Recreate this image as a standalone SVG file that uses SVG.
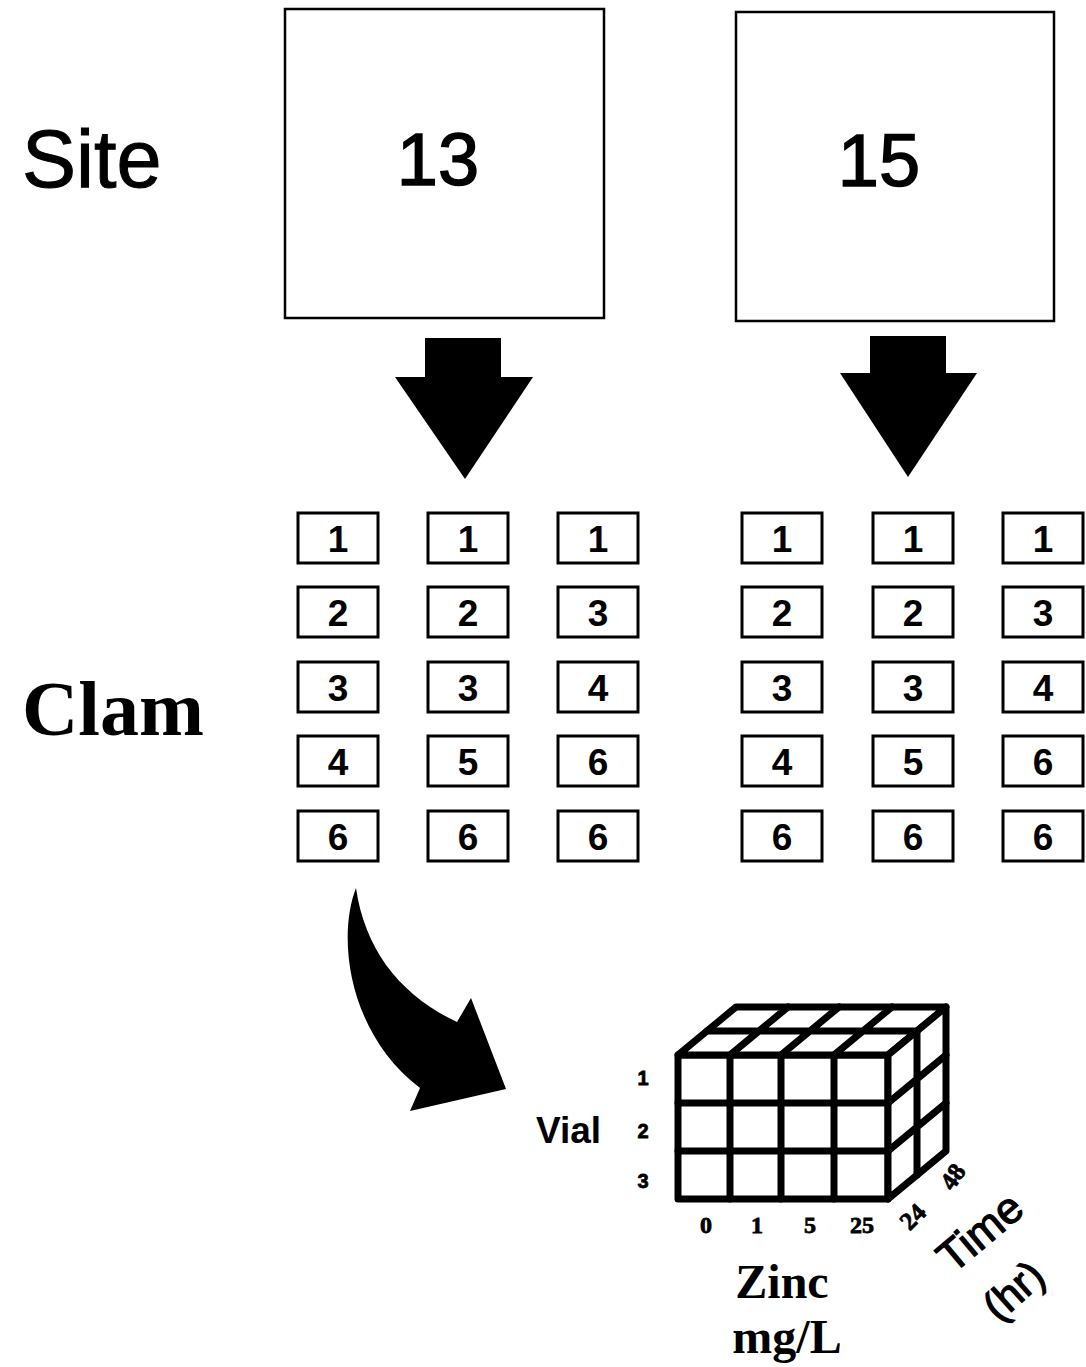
<svg xmlns="http://www.w3.org/2000/svg" width="1086" height="1367" viewBox="0 0 1086 1367">
<style>
.sans{font-family:"Liberation Sans",Arial,sans-serif;fill:#000}
.serif{font-family:"Liberation Serif","Times New Roman",serif;fill:#000}
.site{fill:#fff;stroke:#000;stroke-width:2.5}
.clam rect{fill:#fff;stroke:#000;stroke-width:3}
.clam text{font-family:"Liberation Sans",Arial,sans-serif;font-size:37px;font-weight:bold;text-anchor:middle}
.cube{fill:#fff;stroke:#000;stroke-width:7;stroke-linejoin:round;stroke-linecap:round}
.tick{stroke:#000;stroke-width:0.8}
</style>
<rect width="1086" height="1367" fill="#fff"/>

<text class="sans" x="22" y="187" font-size="81" stroke="#000" stroke-width="1">Site</text>
<text class="serif" x="22" y="735" font-size="78" font-weight="bold">Clam</text>

<g id="site13">
<rect class="site" x="285" y="9" width="319" height="309"/>
<text class="sans" x="438" y="185" font-size="74" text-anchor="middle" stroke="#000" stroke-width="1.5">13</text>
</g>
<g id="site15">
<rect class="site" x="736" y="12" width="318" height="309"/>
<text class="sans" x="879" y="186" font-size="74" text-anchor="middle" stroke="#000" stroke-width="1.5">15</text>
</g>

<g id="connectors" fill="#000">
<polygon points="425,338 501,338 501,377 533,377 465,479 395,377 425,377"/>
<polygon points="870,336 946,336 946,373 977,373 908,477 840,373 870,373"/>
<path d="M356,888 C336,940 350,1035 420,1088 L410,1111 L506,1089 L471,998 L457,1022 C400,995 365,950 356,888 Z"/>
</g>

<g id="clams13" class="clam">
<g id="c13-1-1"><rect x="298" y="513" width="80" height="50"/><text x="338" y="552">1</text></g>
<g id="c13-1-2"><rect x="298" y="587" width="80" height="50"/><text x="338" y="626">2</text></g>
<g id="c13-1-3"><rect x="298" y="662" width="80" height="50"/><text x="338" y="701">3</text></g>
<g id="c13-1-4"><rect x="298" y="736" width="80" height="50"/><text x="338" y="775">4</text></g>
<g id="c13-1-5"><rect x="298" y="811" width="80" height="50"/><text x="338" y="850">6</text></g>
<g id="c13-2-1"><rect x="428" y="513" width="80" height="50"/><text x="468" y="552">1</text></g>
<g id="c13-2-2"><rect x="428" y="587" width="80" height="50"/><text x="468" y="626">2</text></g>
<g id="c13-2-3"><rect x="428" y="662" width="80" height="50"/><text x="468" y="701">3</text></g>
<g id="c13-2-4"><rect x="428" y="736" width="80" height="50"/><text x="468" y="775">5</text></g>
<g id="c13-2-5"><rect x="428" y="811" width="80" height="50"/><text x="468" y="850">6</text></g>
<g id="c13-3-1"><rect x="558" y="513" width="80" height="50"/><text x="598" y="552">1</text></g>
<g id="c13-3-2"><rect x="558" y="587" width="80" height="50"/><text x="598" y="626">3</text></g>
<g id="c13-3-3"><rect x="558" y="662" width="80" height="50"/><text x="598" y="701">4</text></g>
<g id="c13-3-4"><rect x="558" y="736" width="80" height="50"/><text x="598" y="775">6</text></g>
<g id="c13-3-5"><rect x="558" y="811" width="80" height="50"/><text x="598" y="850">6</text></g>
</g>

<g id="clams15" class="clam">
<g id="c15-1-1"><rect x="742" y="513" width="80" height="50"/><text x="782" y="552">1</text></g>
<g id="c15-1-2"><rect x="742" y="587" width="80" height="50"/><text x="782" y="626">2</text></g>
<g id="c15-1-3"><rect x="742" y="662" width="80" height="50"/><text x="782" y="701">3</text></g>
<g id="c15-1-4"><rect x="742" y="736" width="80" height="50"/><text x="782" y="775">4</text></g>
<g id="c15-1-5"><rect x="742" y="811" width="80" height="50"/><text x="782" y="850">6</text></g>
<g id="c15-2-1"><rect x="873" y="513" width="80" height="50"/><text x="913" y="552">1</text></g>
<g id="c15-2-2"><rect x="873" y="587" width="80" height="50"/><text x="913" y="626">2</text></g>
<g id="c15-2-3"><rect x="873" y="662" width="80" height="50"/><text x="913" y="701">3</text></g>
<g id="c15-2-4"><rect x="873" y="736" width="80" height="50"/><text x="913" y="775">5</text></g>
<g id="c15-2-5"><rect x="873" y="811" width="80" height="50"/><text x="913" y="850">6</text></g>
<g id="c15-3-1"><rect x="1003" y="513" width="80" height="50"/><text x="1043" y="552">1</text></g>
<g id="c15-3-2"><rect x="1003" y="587" width="80" height="50"/><text x="1043" y="626">3</text></g>
<g id="c15-3-3"><rect x="1003" y="662" width="80" height="50"/><text x="1043" y="701">4</text></g>
<g id="c15-3-4"><rect x="1003" y="736" width="80" height="50"/><text x="1043" y="775">6</text></g>
<g id="c15-3-5"><rect x="1003" y="811" width="80" height="50"/><text x="1043" y="850">6</text></g>
</g>

<g id="cube" class="cube">
<rect x="678" y="1055" width="210" height="144"/>
<polygon points="678,1055 736,1007 946,1007 888,1055"/>
<polygon points="888,1055 946,1007 946,1151 888,1199"/>
<path d="M730,1055V1199M781,1055V1199M834,1055V1199M678,1103H888M678,1151H888M730,1055L788,1007M781,1055L839,1007M834,1055L892,1007M707,1031H917M917,1031V1175M888,1103L946,1055M888,1151L946,1103" fill="none"/>
</g>

<g id="labels">
<text class="sans" x="536" y="1143" font-size="37" font-weight="bold">Vial</text>
<text class="sans tick" x="643" y="1085" font-size="20" font-weight="bold" text-anchor="middle">1</text>
<text class="sans tick" x="643" y="1138" font-size="20" font-weight="bold" text-anchor="middle">2</text>
<text class="sans tick" x="643" y="1188" font-size="20" font-weight="bold" text-anchor="middle">3</text>
<text class="serif tick" x="706" y="1233" font-size="24" font-weight="bold" text-anchor="middle">0</text>
<text class="serif tick" x="757" y="1233" font-size="24" font-weight="bold" text-anchor="middle">1</text>
<text class="serif tick" x="810" y="1233" font-size="24" font-weight="bold" text-anchor="middle">5</text>
<text class="serif tick" x="862" y="1233" font-size="24" font-weight="bold" text-anchor="middle">25</text>
<text class="serif tick" x="913" y="1225" font-size="25" font-weight="bold" text-anchor="middle" transform="rotate(-45 913 1217)">24</text>
<text class="serif tick" x="953" y="1185" font-size="25" font-weight="bold" text-anchor="middle" transform="rotate(-55 953 1177)">48</text>
<text class="serif" x="782" y="1298" font-size="48" font-weight="bold" text-anchor="middle">Zinc</text>
<text class="serif" x="787" y="1353" font-size="48" font-weight="bold" text-anchor="middle">mg/L</text>
<text class="sans" x="980" y="1247" font-size="44" text-anchor="middle" stroke="#000" stroke-width="1.2" transform="rotate(-40 980 1232)">Time</text>
<text class="sans" x="1013" y="1305" font-size="42" text-anchor="middle" stroke="#000" stroke-width="1.2" transform="rotate(-42 1013 1290)">(hr)</text>
</g>
</svg>
